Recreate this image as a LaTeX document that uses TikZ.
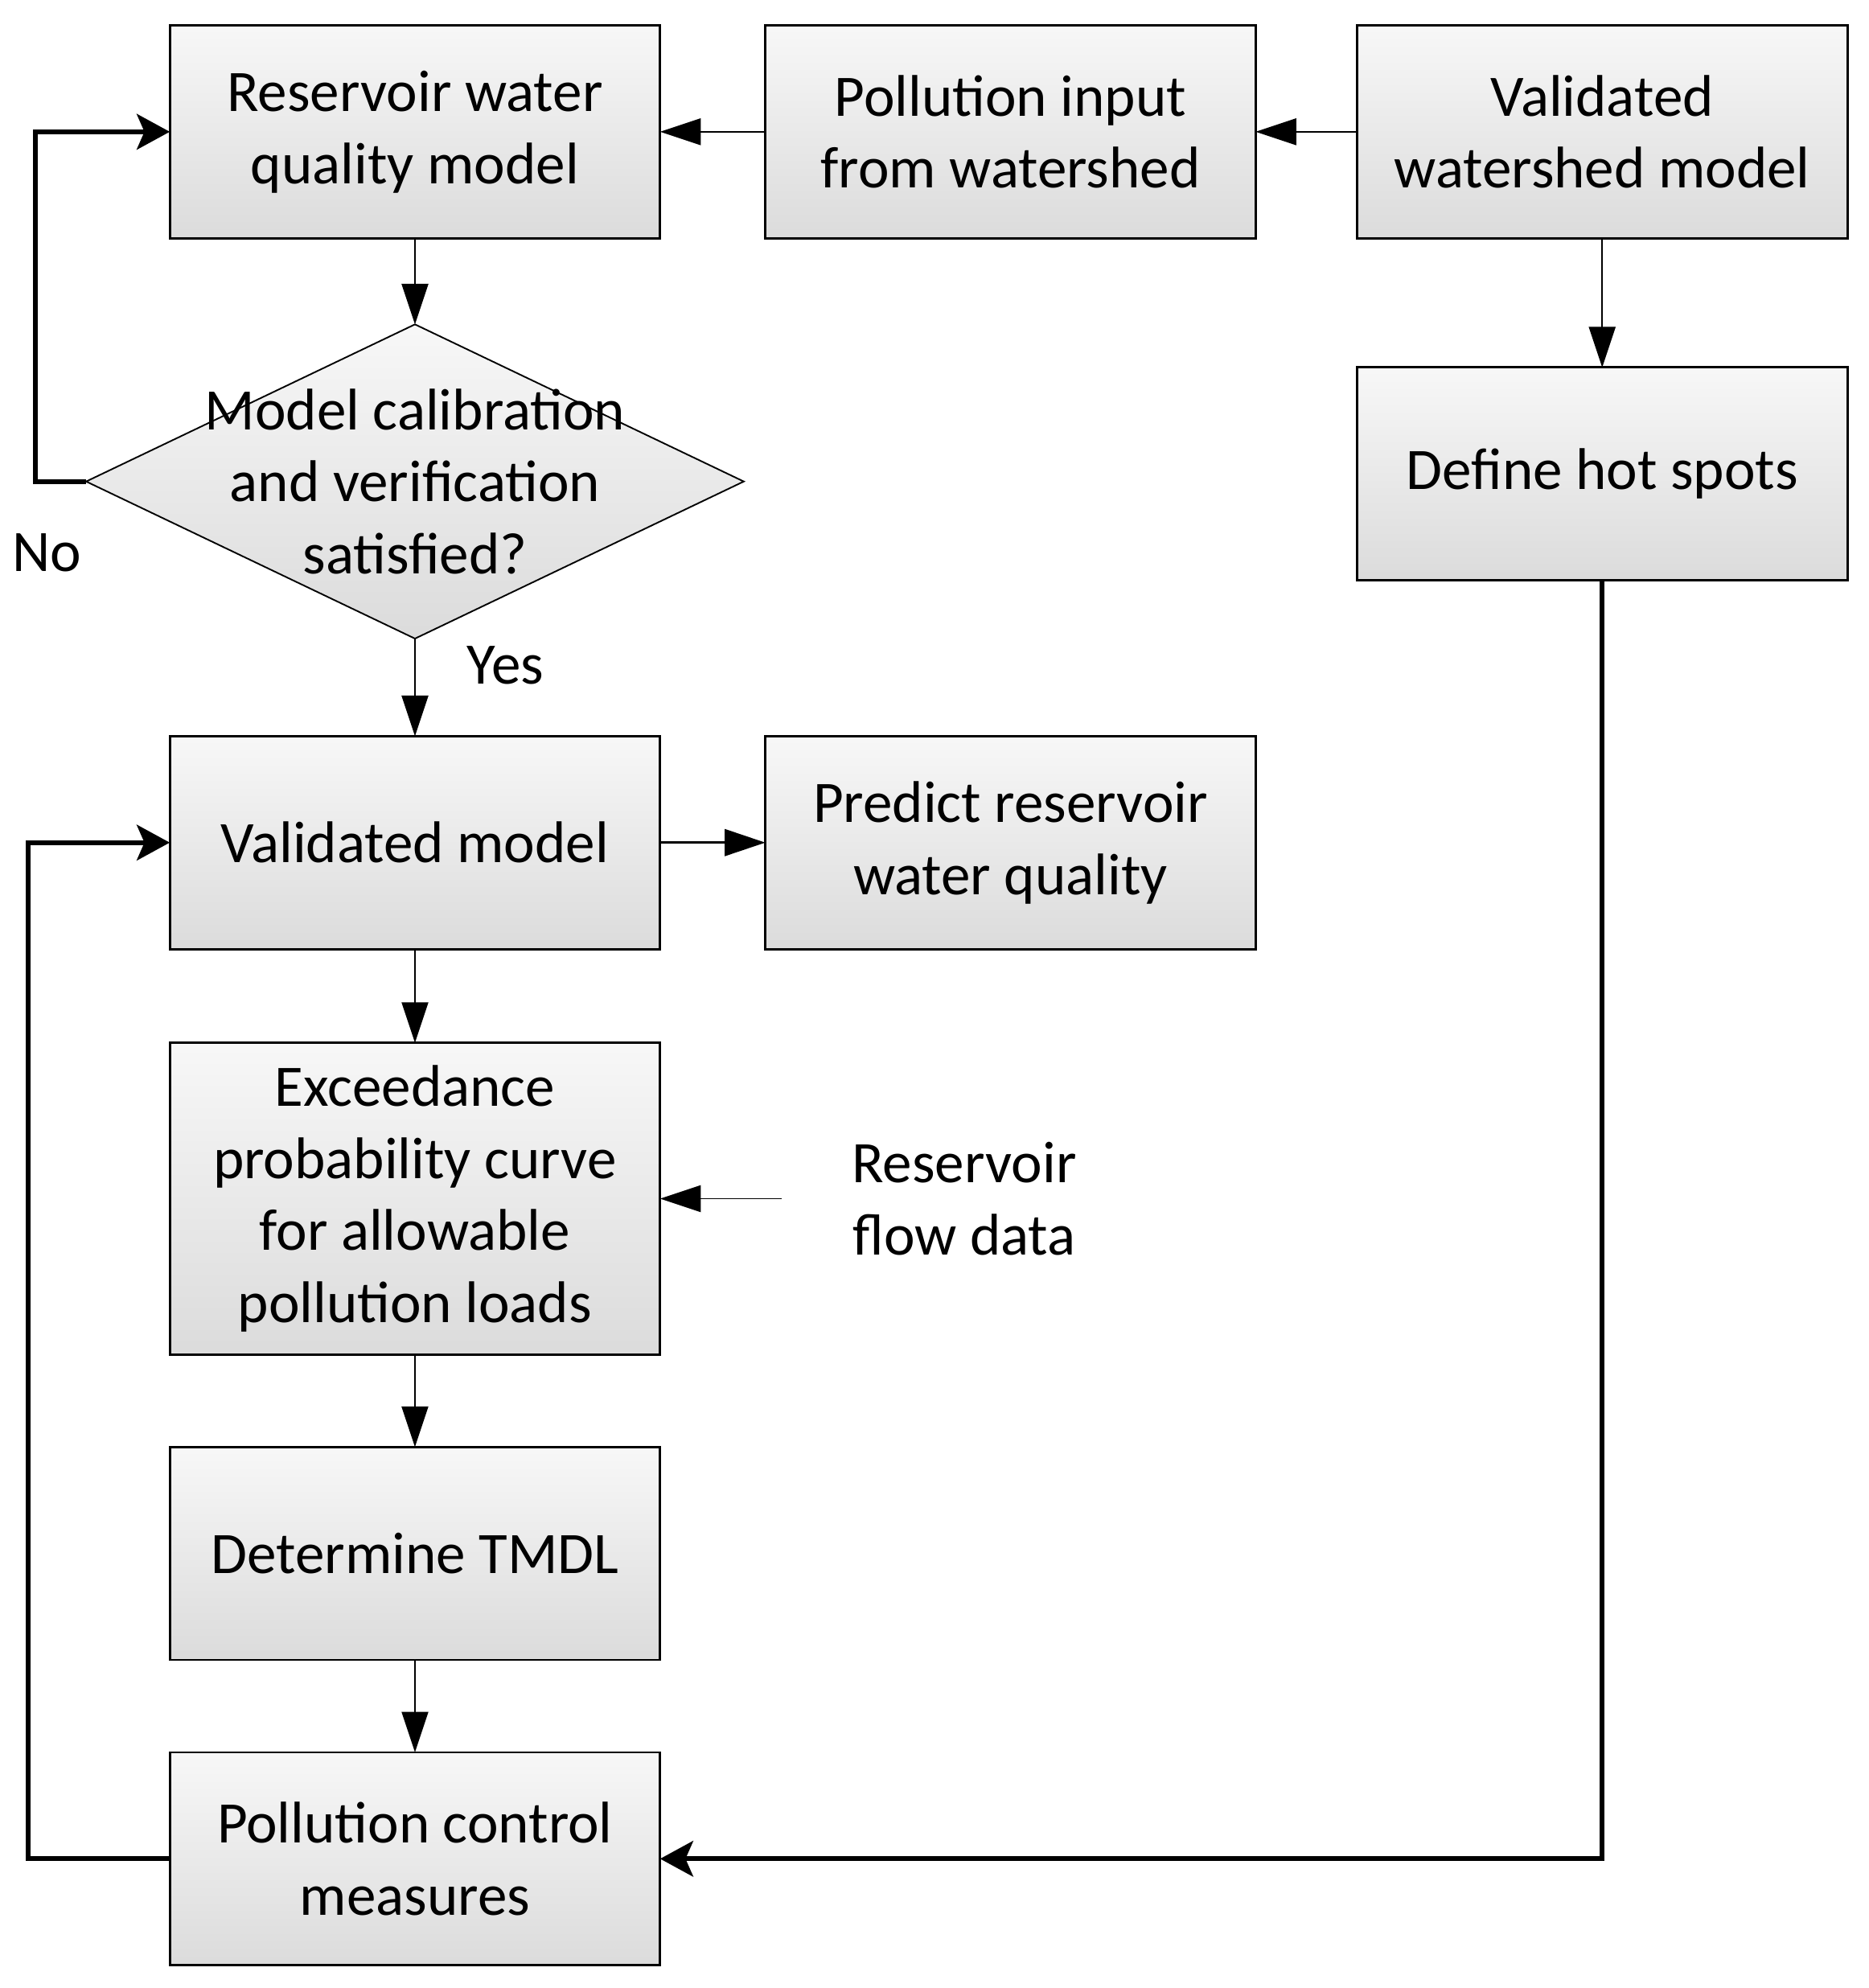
\documentclass[tikz,border=0pt]{standalone}
\usepackage{fontspec}
\setmainfont{Carlito}
\usetikzlibrary{positioning}
\usetikzlibrary{arrows.meta}
\usetikzlibrary{shapes.geometric}

\begin{document}
\begin{tikzpicture}[x=0.5pt, y=-0.5pt,
  font=\fontsize{23.2pt}{28.5pt}\selectfont,
  box/.style={draw, line width=0.9pt, rectangle, align=center, minimum width=193.5pt, minimum height=84pt, inner sep=0pt, outer sep=0pt, top color=black!3, bottom color=black!14},
  tallbox/.style={box, minimum height=123pt},
  decision/.style={draw, line width=0.6pt, diamond, minimum width=259.5pt, minimum height=124pt, inner sep=0pt, outer sep=0pt, top color=black!3, bottom color=black!14},
  plain/.style={align=center, inner sep=0pt},
  arr/.style={line width=0.6pt, -{Triangle[length=16pt, width=10.5pt]}},
  loop/.style={line width=2pt, -{Stealth[length=13pt, width=14pt, inset=3pt]}}]

\useasboundingbox (0,0) rectangle (1475,1569);

\node[box] (rwqm) at (327.5,104) {Reservoir water\\quality model};
\node[box, right=41.5pt of rwqm] (pin) {Pollution input\\from watershed};
\node[box, right=40pt of pin] (vwm) {Validated\\watershed model};
\node[box, below=51pt of vwm] (hot) {Define hot spots};

\node[decision, below=34pt of rwqm] (calib) {};
\node[plain] (calibtxt) at (calib) {Model calibration\\and verification\\satisfied?};

\node[box, below=38.5pt of calib] (valid) {Validated model};
\node[box, right=41.5pt of valid] (pred) {Predict reservoir\\water quality};
\node[tallbox, below=37pt of valid] (exceed) {Exceedance\\probability curve\\for allowable\\pollution loads};
\node[plain, right=75.5pt of exceed] (flow) {Reservoir\\flow data};
\node[box, below=36.5pt of exceed] (tmdl) {Determine TMDL};
\node[box, below=36.5pt of tmdl] (pcm) {Pollution control\\measures};

\node[plain] (no) at (37,436) {No};
\node[plain] (yes) at (399,525) {Yes};

\draw[arr] (vwm) -- (pin);
\draw[arr] (pin) -- (rwqm);
\draw[arr] (rwqm) -- (calib);
\draw[arr] (vwm) -- (hot);
\draw[arr] (calib) -- (valid);
\draw[arr, line width=1pt] (valid) -- (pred);
\draw[arr] (valid) -- (exceed);
\draw[arr, shorten <=27.5pt] (flow.west) -- (exceed.east);
\draw[arr] (exceed) -- (tmdl);
\draw[arr] (tmdl) -- (pcm);

\draw[loop] (calib.west) -- ++(-20pt,0) |- (rwqm.west);
\draw[loop] (pcm.west) -- ++(-56pt,0) |- (valid.west);
\draw[loop] (hot.south) |- (pcm.east);

\end{tikzpicture}
\end{document}
